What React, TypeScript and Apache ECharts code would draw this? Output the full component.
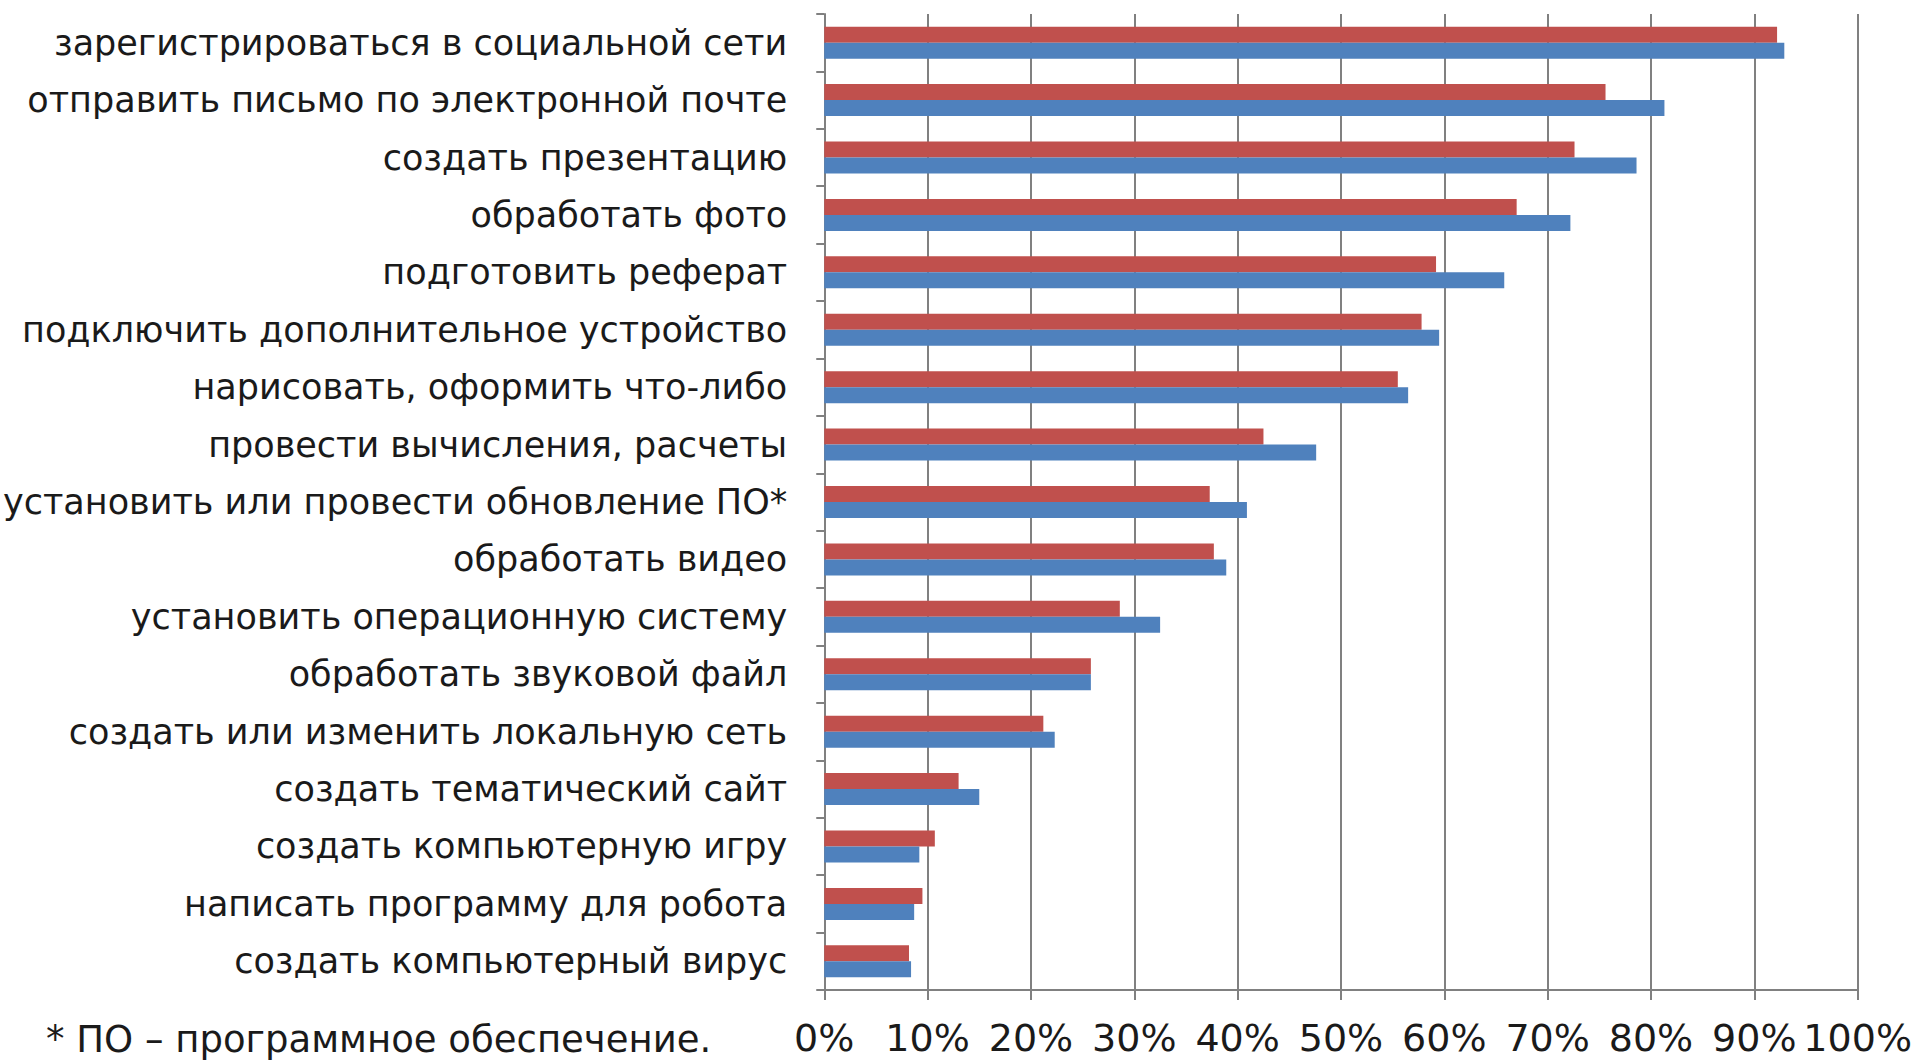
import React, { useEffect, useRef } from "react";
import * as echarts from "echarts";

const categories = [
  "зарегистрироваться в социальной сети",
  "отправить письмо по электронной почте",
  "создать презентацию",
  "обработать фото",
  "подготовить реферат",
  "подключить дополнительное устройство",
  "нарисовать, оформить что-либо",
  "провести вычисления, расчеты",
  "установить или провести обновление ПО*",
  "обработать видео",
  "установить операционную систему",
  "обработать звуковой файл",
  "создать или изменить локальную сеть",
  "создать тематический сайт",
  "создать компьютерную игру",
  "написать программу для робота",
  "создать компьютерный вирус",
];

const redValues = [92.2, 75.6, 72.6, 67.0, 59.2, 57.8, 55.5, 42.5, 37.3, 37.7, 28.6, 25.8, 21.2, 13.0, 10.7, 9.5, 8.2];
const blueValues = [92.9, 81.3, 78.6, 72.2, 65.8, 59.5, 56.5, 47.6, 40.9, 38.9, 32.5, 25.8, 22.3, 15.0, 9.2, 8.7, 8.4];

const xTicks = [0, 10, 20, 30, 40, 50, 60, 70, 80, 90, 100];
const footnote = "* ПО – программное обеспечение.";

export default function App() {
  const ref = useRef<HTMLDivElement>(null);
  useEffect(() => {
    document.body.style.margin = "0";
    const chart = echarts.init(ref.current!, undefined, { renderer: "svg" });
    const gray = "#808080";
    chart.setOption({
      animation: false,
      backgroundColor: "#ffffff",
      grid: { left: 824, right: 57, top: 14, bottom: 73, containLabel: false },
      xAxis: {
        type: "value",
        min: xTicks[0],
        max: xTicks[xTicks.length - 1],
        interval: 10,
        axisLine: { show: true, lineStyle: { color: gray, width: 2 } },
        axisTick: { show: true, length: 10, lineStyle: { color: gray, width: 2 } },
        splitLine: { show: true, lineStyle: { color: gray, width: 2 } },
        axisLabel: {
          margin: 28,
          fontFamily: "DejaVu Sans",
          fontSize: 38,
          lineHeight: 40,
          color: "#1a1a1a",
          formatter: (v: number) => v + "%",
        },
      },
      yAxis: {
        type: "category",
        data: categories,
        inverse: true,
        axisLine: { show: true, lineStyle: { color: gray, width: 2 } },
        axisTick: { show: true, length: 8, lineStyle: { color: gray, width: 2 } },
        axisLabel: {
          margin: 37,
          fontFamily: "DejaVu Sans",
          fontSize: 35,
          color: "#1a1a1a",
        },
      },
      series: [
        {
          type: "bar",
          data: redValues,
          barWidth: 16,
          barGap: "0%",
          itemStyle: { color: "#C0504D" },
        },
        {
          type: "bar",
          data: blueValues,
          barWidth: 16,
          barGap: "0%",
          itemStyle: { color: "#4F81BD" },
        },
      ],
      graphic: [
        {
          type: "text",
          left: 46,
          top: 1020,
          style: {
            text: footnote,
            font: "37px 'DejaVu Sans'",
            lineHeight: 39,
            fill: "#1a1a1a",
          },
        },
      ],
    });
    return () => chart.dispose();
  }, []);
  return <div ref={ref} style={{ width: 1915, height: 1063 }} />;
}
